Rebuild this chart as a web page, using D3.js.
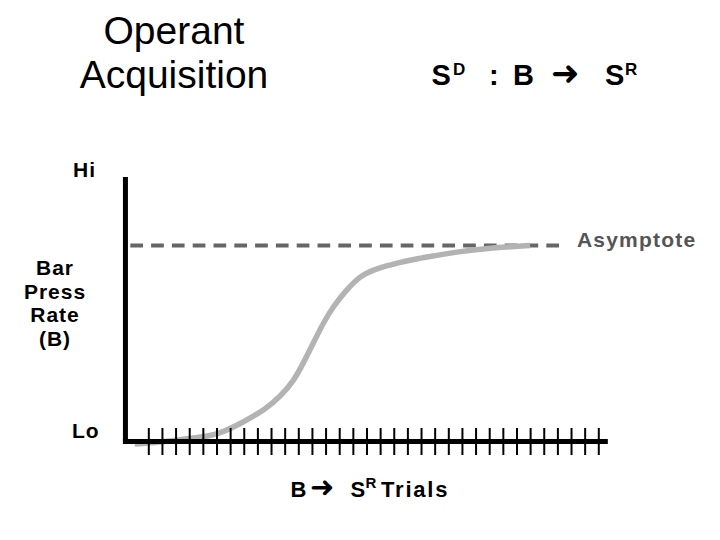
<!DOCTYPE html>
<html><head><meta charset="utf-8">
<script src="https://cdn.jsdelivr.net/npm/d3@7/dist/d3.min.js"></script>
<style>body{margin:0;background:#fff}svg{display:block}</style>
</head><body>
<svg id="c" width="720" height="540"></svg>
<script>
// ---- data ----
const trialTicks = d3.range(1, 35);            // 34 trial tick marks
const curveTrials = [0, 2.4, 4.8, 6.0, 7.9, 9.7, 10.66, 11.63, 12.37, 13.10, 13.83, 14.57, 15.55, 16.52, 17.50, 19.22, 21.66, 24.10, 25.33, 29.0];
const curveRate   = [-1.3, -0.1, 2.3, 3.3, 9.5, 17, 22.9, 30.5, 40.0, 50.2, 60.5, 69.0, 77.5, 84.3, 87.7, 91.2, 94.5, 97.1, 98.3, 100];
const asymptote = 100;
const yLabels = ["Hi", "Lo"];
const yTitle = ["Bar", "Press", "Rate", "(B)"];
const xDomain = [-0.86, 34.7];
const yDomainTop = 135;

const svg = d3.select("#c");
const x = d3.scaleLinear().domain([0, 33]).range([134.67, 134.67 + 13.636 * 33]);
const y = d3.scaleLinear().domain([0, 100]).range([441.5, 245.5]);
const font = "'Liberation Sans', Arial, sans-serif";

// dashed asymptote
svg.append("line")
  .attr("x1", x(-0.32)).attr("x2", x(31.13))
  .attr("y1", y(asymptote)).attr("y2", y(asymptote))
  .attr("stroke", "#666").attr("stroke-width", 4)
  .attr("stroke-dasharray", "12.7 8.1");

// curve
const pts = curveTrials.map((t, i) => [t, curveRate[i]]);
svg.append("path")
  .attr("d", d3.line().x(d => x(d[0])).y(d => y(d[1])).curve(d3.curveBasis)(pts))
  .attr("fill", "none").attr("stroke", "#b3b3b3").attr("stroke-width", 5.5);

// axes
svg.append("line").attr("x1", x(xDomain[0]) + 2.5).attr("x2", x(xDomain[0]) + 2.5)
  .attr("y1", y(yDomainTop)).attr("y2", y(0) + 2.5)
  .attr("stroke", "#000").attr("stroke-width", 5);
svg.append("line").attr("x1", x(xDomain[0])).attr("x2", x(xDomain[1]))
  .attr("y1", y(0)).attr("y2", y(0))
  .attr("stroke", "#000").attr("stroke-width", 5);

const xAxis = d3.axisBottom(x).tickValues(trialTicks).tickSize(27).tickSizeOuter(0).tickFormat("");
const gx = svg.append("g").attr("transform", `translate(0,${y(0) - 13.5})`).call(xAxis);
gx.select(".domain").remove();
gx.selectAll(".tick line").attr("stroke", "#000").attr("stroke-width", 2);

// titles
svg.append("text").attr("x", 174).attr("y", 44).attr("text-anchor", "middle")
  .attr("font-family", font).attr("font-size", 39).text("Operant");
svg.append("text").attr("x", 174).attr("y", 88).attr("text-anchor", "middle")
  .attr("font-family", font).attr("font-size", 39).text("Acquisition");

// SD : B -> SR
function piece(txt, px, py, size, fam) {
  return svg.append("text").attr("x", px).attr("y", py)
    .attr("font-family", fam || font).attr("font-size", size).attr("font-weight", "bold").text(txt);
}
piece("S", 431.5, 84.5, 29);
piece("D", 453, 74.5, 17);
piece(":", 489, 84.5, 29);
piece("B", 513, 84.5, 29);
piece("➜", 551, 85, 34, "'DejaVu Sans'");
piece("S", 605, 84.5, 29);
piece("R", 625, 74.5, 17);

// y labels
svg.append("text").attr("x", 73).attr("y", 177).attr("font-weight", "bold")
  .attr("font-family", font).attr("font-size", 21).attr("letter-spacing", 1).text(yLabels[0]);
svg.append("text").attr("x", 72).attr("y", 438).attr("font-weight", "bold")
  .attr("font-family", font).attr("font-size", 21).attr("letter-spacing", 1).text(yLabels[1]);
const yt = svg.append("text").attr("font-family", font).attr("font-size", 21).attr("font-weight", "bold")
  .attr("text-anchor", "middle").attr("letter-spacing", 1);
yTitle.forEach((s, i) => yt.append("tspan").attr("x", 55).attr("y", 275 + i * 23.5).text(s));

// asymptote label
svg.append("text").attr("x", 577).attr("y", 247)
  .attr("font-family", font).attr("font-size", 21).attr("font-weight", "bold")
  .attr("letter-spacing", 1.2).attr("fill", "#555").text("Asymptote");

// x title
piece("B", 290.5, 496.5, 22);
piece("➜", 310, 497, 29, "'DejaVu Sans'");
piece("S", 350.5, 496.5, 22);
piece("R", 365.5, 488, 15);
piece("Trials", 381, 496.5, 22).attr("letter-spacing", 1.8);
</script>
</body></html>
